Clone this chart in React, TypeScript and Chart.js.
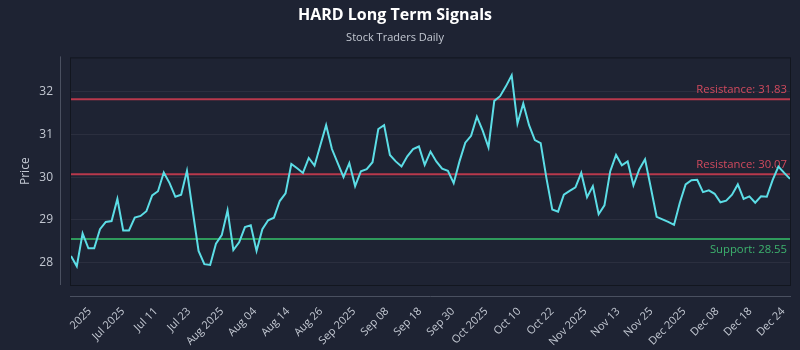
import React, { useEffect, useRef } from "react";
import { Chart, registerables } from "chart.js";

Chart.register(...registerables);

// ---- data ----
const prices: number[] = [
  28.15, 27.91, 28.68, 28.33, 28.33, 28.78, 28.95, 28.97, 29.49, 28.75,
  28.75, 29.05, 29.09, 29.2, 29.57, 29.67, 30.11, 29.86, 29.54, 29.59,
  30.15, 29.2, 28.27, 27.96, 27.94, 28.44, 28.64, 29.22, 28.29, 28.47,
  28.83, 28.87, 28.27, 28.78, 28.99, 29.05, 29.44, 29.62, 30.31, 30.21,
  30.1, 30.45, 30.27, 30.75, 31.22, 30.66, 30.33, 30.0, 30.33, 29.79,
  30.14, 30.19, 30.35, 31.13, 31.22, 30.52, 30.37, 30.25, 30.49, 30.66,
  30.72, 30.29, 30.6, 30.37, 30.2, 30.15, 29.86, 30.37, 30.81, 30.97,
  31.42, 31.09, 30.7, 31.79, 31.9, 32.13, 32.39, 31.26, 31.73, 31.22,
  30.87, 30.8, 29.97, 29.24, 29.19, 29.59, 29.68, 29.76, 30.1, 29.53,
  29.79, 29.13, 29.34, 30.14, 30.52, 30.28, 30.37, 29.81, 30.18, 30.42,
  29.75, 29.07, 29.01, 28.95, 28.88, 29.4, 29.83, 29.93, 29.94, 29.65,
  29.69, 29.61, 29.41, 29.45, 29.59, 29.83, 29.49, 29.55, 29.4, 29.55,
  29.54, 29.93, 30.25, 30.1, 29.96,
];

const tickLabels: string[] = [
  "2025", "Jul 2025", "Jul 11", "Jul 23", "Aug 2025", "Aug 04", "Aug 14",
  "Aug 26", "Sep 2025", "Sep 08", "Sep 18", "Sep 30", "Oct 2025", "Oct 10",
  "Oct 22", "Nov 2025", "Nov 13", "Nov 25", "Dec 2025", "Dec 08", "Dec 18",
  "Dec 24",
];

const yTickValues: number[] = [28, 29, 30, 31, 32];

const resistanceLevels: number[] = [31.83, 30.07];
const supportLevels: number[] = [28.55];

const TITLE = "HARD Long Term Signals";
const SUBTITLE = "Stock Traders Daily";

// ---- styles ----
const FONT = "'Open Sans', 'DejaVu Sans', sans-serif";
const BG = "#1e2333";
const TEXT = "#c3c8d2";

export default function App() {
  const ref = useRef<HTMLCanvasElement | null>(null);

  useEffect(() => {
    document.body.style.margin = "0";
    document.body.style.background = BG;
    const canvas = ref.current;
    if (!canvas) return;

    const firstTick = 3.25;
    const lastTick = 122.85;
    const tickStep = (lastTick - firstTick) / (tickLabels.length - 1);

    const framePlugin = {
      id: "frame",
      beforeDraw(chart: any) {
        const ctx = chart.ctx;
        ctx.save();
        ctx.fillStyle = BG;
        ctx.fillRect(0, 0, chart.width, chart.height);
        ctx.restore();
      },
      beforeDatasetsDraw(chart: any) {
        const { ctx, chartArea } = chart;
        const { left, right, top, bottom } = chartArea;
        const y = chart.scales.y;
        ctx.save();
        ctx.strokeStyle = "#12161f";
        ctx.lineWidth = 1;
        ctx.strokeRect(left - 0.5, top + 0.5, right - left + 1, bottom - top);
        ctx.strokeStyle = "#4a5060";
        ctx.beginPath();
        ctx.moveTo(left - 10.5, top - 1);
        ctx.lineTo(left - 10.5, bottom);
        ctx.moveTo(left - 1, bottom + 11.5);
        ctx.lineTo(right + 1, bottom + 11.5);
        ctx.stroke();

        ctx.font = `11.3px ${FONT}`;
        ctx.textAlign = "right";
        ctx.textBaseline = "middle";
        ctx.lineWidth = 2;
        resistanceLevels.forEach((lv) => {
          const py = y.getPixelForValue(lv);
          ctx.strokeStyle = "#b8394c";
          ctx.beginPath();
          ctx.moveTo(left, py);
          ctx.lineTo(right, py);
          ctx.stroke();
          ctx.fillStyle = "#d24a5e";
          ctx.fillText(`Resistance: ${lv.toFixed(2)}`, right - 3, py - 9);
        });
        supportLevels.forEach((lv) => {
          const py = y.getPixelForValue(lv);
          ctx.strokeStyle = "#2f9a5c";
          ctx.beginPath();
          ctx.moveTo(left, py);
          ctx.lineTo(right, py);
          ctx.stroke();
          ctx.fillStyle = "#3db36e";
          ctx.fillText(`Support: ${lv.toFixed(2)}`, right - 3, py + 11);
        });
        ctx.restore();
      },
    };

    const chart = new Chart(canvas, {
      type: "line",
      data: {
        datasets: [
          {
            label: "HARD",
            data: prices.map((v, i) => ({ x: i, y: v })),
            borderColor: "#5cdde6",
            borderWidth: 2,
            pointRadius: 0,
            tension: 0,
            fill: false,
          },
        ],
      },
      options: {
        animation: false,
        responsive: false,
        maintainAspectRatio: false,
        layout: { padding: { top: 0, right: 10, bottom: 0, left: 0 } },
        plugins: {
          legend: { display: false },
          tooltip: { enabled: false },
          title: {
            display: true,
            text: TITLE,
            color: "#ffffff",
            font: { family: FONT, size: 16, weight: "bold" },
            padding: { top: 6, bottom: 6 },
          },
          subtitle: {
            display: true,
            text: SUBTITLE,
            color: TEXT,
            font: { family: FONT, size: 11 },
            padding: { top: 0, bottom: 13 },
          },
        },
        scales: {
          x: {
            type: "linear",
            min: 0,
            max: prices.length - 1,
            grid: { display: false, drawTicks: false },
            border: { display: false },
            afterBuildTicks: (s: any) => {
              s.ticks = tickLabels.map((_, k) => ({ value: firstTick + k * tickStep }));
            },
            afterFit: (s: any) => {
              s.height = 65;
              s.paddingRight = 0;
              s.paddingLeft = 0;
            },
            ticks: {
              autoSkip: false,
              minRotation: 45,
              maxRotation: 45,
              padding: 20,
              color: TEXT,
              font: { family: FONT, size: 11 },
              callback: (_v: any, idx: number) => tickLabels[idx],
            },
          },
          y: {
            min: 27.47,
            max: 32.81,
            grid: { color: "rgba(255,255,255,0.06)", drawTicks: false },
            border: { display: false },
            afterBuildTicks: (s: any) => {
              s.ticks = yTickValues.map((v) => ({ value: v }));
            },
            afterFit: (s: any) => {
              s.width = 71;
            },
            ticks: {
              padding: 18,
              color: TEXT,
              font: { family: FONT, size: 12 },
              callback: (v: any) => String(v),
            },
            title: {
              display: true,
              text: "Price",
              color: TEXT,
              font: { family: FONT, size: 12 },
              padding: { top: 18, bottom: 0 },
            },
          },
        },
      },
      plugins: [framePlugin],
    } as any);

    return () => chart.destroy();
  }, []);

  return (
    <div style={{ width: 800, height: 350, background: BG }}>
      <canvas ref={ref} width={800} height={350} style={{ display: "block", width: 800, height: 350 }} />
    </div>
  );
}
